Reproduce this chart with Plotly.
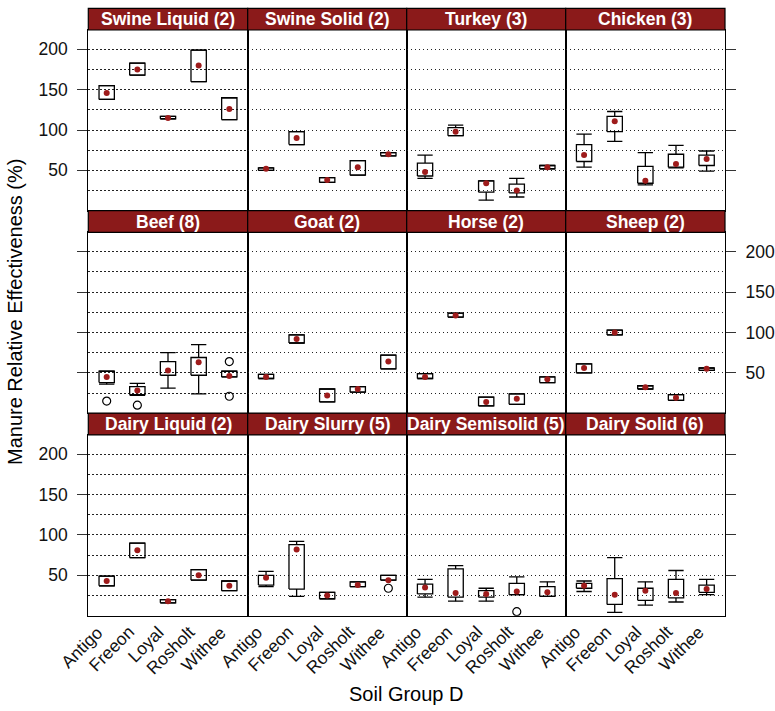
import plotly.graph_objects as go

soils = ["Antigo", "Freeon", "Loyal", "Rosholt", "Withee"]
panels = ["Swine Liquid (2)", "Swine Solid (2)", "Turkey (3)", "Chicken (3)",
          "Beef (8)", "Goat (2)", "Horse (2)", "Sheep (2)",
          "Dairy Liquid (2)", "Dairy Slurry (5)", "Dairy Semisolid (5)", "Dairy Solid (6)"]

# per panel, per soil: lower whisker, q1, median, q3, upper whisker
lower_whisker = [
    [138, 168, 114, 160, 113],
    [50, 82, 35, 44, 68],
    [40, 93, 13, 17, 52],
    [54, 86, 32, 53, 49],
    [36, 22, 31, 24, 45],
    [43, 87, 14, 26, 55],
    [43, 119, 9, 11, 38],
    [50, 97, 30, 16, 53],
    [37, 72, 16, 44, 31],
    [36, 24, 21, 36, 44],
    [23, 18, 18, 26, 24],
    [30, 4, 13, 17, 26],
]
q1 = [
    [138, 168, 114, 160, 113],
    [50, 82, 35, 44, 68],
    [43, 93, 23, 22, 52],
    [61, 98, 34, 54, 56],
    [38, 23, 47, 47, 45],
    [43, 87, 14, 26, 55],
    [43, 119, 9, 11, 38],
    [50, 97, 30, 16, 53],
    [37, 72, 16, 44, 31],
    [38, 33, 21, 36, 44],
    [27, 23, 23, 26, 24],
    [34, 14, 19, 22, 29],
]
median = [
    [146, 175, 115, 180, 126],
    [52, 90, 38, 54, 70],
    [48, 98, 34, 25, 54],
    [69, 111, 37, 58, 64],
    [45, 28, 53, 63, 46],
    [45, 92, 22, 30, 64],
    [45, 121, 14, 18, 42],
    [56, 100, 32, 19, 55],
    [43, 81, 18, 50, 37],
    [47, 82, 25, 38, 44],
    [35, 28, 27, 30, 29],
    [37, 26, 31, 28, 33],
]
q3 = [
    [155, 183, 117, 199, 140],
    [53, 98, 41, 62, 72],
    [59, 103, 37, 33, 56],
    [82, 117, 55, 70, 69],
    [52, 33, 64, 69, 52],
    [48, 97, 30, 33, 72],
    [49, 124, 20, 24, 45],
    [61, 103, 34, 23, 56],
    [49, 90, 20, 57, 43],
    [50, 88, 29, 42, 50],
    [39, 58, 31, 40, 36],
    [40, 46, 34, 45, 38],
]
upper_whisker = [
    [155, 183, 117, 199, 140],
    [53, 98, 41, 62, 72],
    [69, 106, 37, 40, 56],
    [95, 123, 72, 81, 74],
    [52, 37, 75, 85, 52],
    [48, 97, 30, 33, 72],
    [49, 124, 20, 24, 45],
    [61, 103, 34, 23, 56],
    [49, 90, 20, 57, 43],
    [55, 92, 29, 42, 50],
    [45, 62, 34, 48, 42],
    [43, 72, 42, 56, 45],
]
# outliers: (panel index, soil index, value)
outlier_panel = [4, 4, 4, 4, 9, 10]
outlier_soil = [0, 1, 4, 4, 4, 3]
outlier_value = [15, 10, 64, 21, 34, 5]

y_ticks = [50, 100, 150, 200]
y_minor = [25, 75, 125, 175]
y_range = [0, 224]

STRIP = "#8B1A1A"
DOT = "#9E1B1B"
FONT = "Liberation Sans, Arial, sans-serif"
W, H = 775, 711

col_px = [88.3, 247.7, 406.7, 565.7, 725.0]
row_strip_top = [8.3, 210.7, 413.2]
strip_h = 21.7
panel_bottom = [210.7, 413.2, 615.7]

fig = go.Figure()
shapes = []
annotations = []
bw = 0.25

for p, name in enumerate(panels):
    r, c = divmod(p, 4)
    idx = p + 1
    xa = "x" if idx == 1 else f"x{idx}"
    ya = "y" if idx == 1 else f"y{idx}"
    bx, by = [], []
    for i in range(5):
        xc = i + 1
        lo, a, b, hi = lower_whisker[p][i], q1[p][i], q3[p][i], upper_whisker[p][i]
        bx += [xc - bw, xc + bw, xc + bw, xc - bw, xc - bw, None]
        by += [a, a, b, b, a, None]
        if hi > b:
            bx += [xc, xc, None, xc - bw, xc + bw, None]
            by += [b, hi, None, hi, hi, None]
        else:
            bx += [xc - bw, xc + bw, None]
            by += [hi, hi, None]
        if lo < a:
            bx += [xc, xc, None, xc - bw, xc + bw, None]
            by += [a, lo, None, lo, lo, None]
        else:
            bx += [xc - bw, xc + bw, None]
            by += [lo, lo, None]
    fig.add_trace(go.Scatter(x=bx, y=by, mode="lines", xaxis=xa, yaxis=ya,
                             line=dict(color="black", width=1.3), hoverinfo="skip",
                             showlegend=False))
    fig.add_trace(go.Scatter(x=[i + 1 for i in range(5)], y=median[p], mode="markers",
                             xaxis=xa, yaxis=ya, marker=dict(color=DOT, size=6),
                             showlegend=False))
    ox = [outlier_soil[k] + 1 for k in range(len(outlier_panel)) if outlier_panel[k] == p]
    oy = [outlier_value[k] for k in range(len(outlier_panel)) if outlier_panel[k] == p]
    if ox:
        fig.add_trace(go.Scatter(x=ox, y=oy, mode="markers", xaxis=xa, yaxis=ya,
                                 marker=dict(symbol="circle-open", color="black", size=8,
                                             line=dict(width=1.2)),
                                 showlegend=False))

    x0, x1 = col_px[c] / W, col_px[c + 1] / W
    st = row_strip_top[r]
    pt = st + strip_h
    pb = panel_bottom[r]
    xdom = [x0, x1]
    ydom = [1 - pb / H, 1 - pt / H]

    xkey = "xaxis" if idx == 1 else f"xaxis{idx}"
    ykey = "yaxis" if idx == 1 else f"yaxis{idx}"
    fig.layout[xkey] = dict(
        domain=xdom, anchor=ya, range=[0.4, 5.6], tickvals=[1, 2, 3, 4, 5],
        ticktext=soils, showticklabels=False, ticks="", automargin=False,
        showgrid=False, zeroline=False, showline=True, mirror=True,
        linecolor="black", linewidth=1.2,
    )
    yd = dict(
        domain=ydom, anchor=xa, range=y_range, tickvals=y_ticks, automargin=False,
        showgrid=True, gridcolor="#222222", gridwidth=1, griddash="1.5px,2.5px",
        minor=dict(tickvals=y_minor, showgrid=True, gridcolor="#222222",
                   gridwidth=1, griddash="1.5px,2.5px", ticks=""),
        zeroline=False, showline=True, mirror=True, linecolor="black", linewidth=1.2,
        tickfont=dict(family=FONT, size=17.5, color="#111111"),
        ticks="", showticklabels=False,
    )
    if c == 0:
        yd.update(side="left", ticks="outside", ticklen=10, tickwidth=1.2,
                  tickcolor="#333333", showticklabels=(r != 1), ticklabelstandoff=6)
    elif c == 3:
        yd.update(side="right", ticks="outside", ticklen=10, tickwidth=1.2,
                  tickcolor="#333333", showticklabels=(r == 1), ticklabelstandoff=6)
    fig.layout[ykey] = yd

    if r == 2:
        for i, s in enumerate(soils):
            annotations.append(dict(xref=xa, yref="paper", x=i + 1.1,
                                    y=1 - (pb + 4) / H, text=s, textangle=-45,
                                    showarrow=False, xanchor="right", yanchor="top",
                                    font=dict(family=FONT, size=17.5, color="#111111")))

    shapes.append(dict(type="rect", xref="paper", yref="paper",
                       x0=x0, x1=x1, y0=1 - pt / H, y1=1 - st / H,
                       fillcolor=STRIP, line=dict(color="black", width=1.2)))
    annotations.append(dict(xref="paper", yref="paper", x=(x0 + x1) / 2,
                            y=1 - (st + strip_h / 2) / H, text=f"<b>{name}</b>",
                            showarrow=False, xanchor="center", yanchor="middle",
                            font=dict(family=FONT, size=17.5, color="white")))

annotations.append(dict(xref="paper", yref="paper", x=15 / W, y=1 - 312 / H,
                        text="Manure Relative Effectiveness (%)", textangle=-90,
                        showarrow=False, xanchor="center", yanchor="middle",
                        font=dict(family=FONT, size=20, color="black")))
annotations.append(dict(xref="paper", yref="paper", x=406.6 / W, y=1 - 694 / H,
                        text="Soil Group D", showarrow=False, xanchor="center",
                        yanchor="middle", font=dict(family=FONT, size=20, color="black")))

fig.update_layout(width=W, height=H, margin=dict(l=0, r=0, t=0, b=0, autoexpand=False),
                  paper_bgcolor="white", plot_bgcolor="white",
                  shapes=shapes, annotations=annotations, showlegend=False,
                  font=dict(family=FONT))
fig.write_html("out.html")
